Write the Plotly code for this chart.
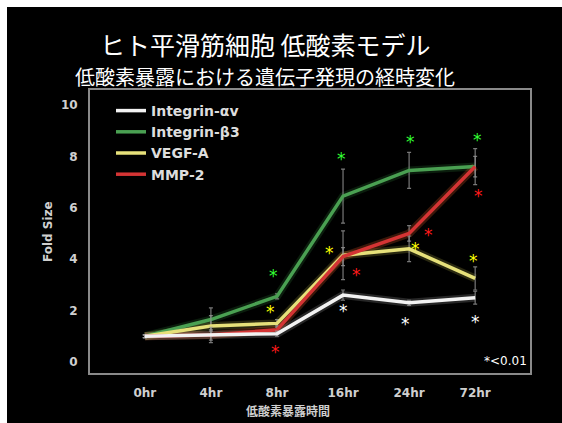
import plotly.graph_objects as go

# Exposure times (categorical positions 0..5)
time_labels = ["0hr", "4hr", "8hr", "16hr", "24hr", "72hr"]
x_pos = [0, 1, 2, 3, 4, 5]

# Fold change of gene expression
itga_v = [1.0, 1.05, 1.1, 2.6, 2.3, 2.5]
itgb_3 = [1.0, 1.65, 2.55, 6.45, 7.45, 7.6]
vegf_a = [1.0, 1.4, 1.5, 4.15, 4.4, 3.25]
mmp_2 = [1.0, 1.05, 1.25, 4.1, 5.0, 7.6]

# Error bar half-widths
itga_v_err = [0.05, 0.3, 0.1, 0.2, 0.1, 0.25]
itgb_3_err = [0.05, 0.45, 0.1, 1.05, 0.7, 0.7]
vegf_a_err = [0.05, 0.4, 0.15, 0.95, 0.5, 0.45]
mmp_2_err = [0.05, 0.2, 0.15, 0.35, 0.3, 0.4]

series = [
    # name, values, errors, line colour, glow colour, rank
    ("Integrin-β3", itgb_3, itgb_3_err, "#4aa052", "rgba(60,160,70,0.18)", 2),
    ("VEGF-A", vegf_a, vegf_a_err, "#e6e07a", "rgba(230,220,90,0.18)", 3),
    ("MMP-2", mmp_2, mmp_2_err, "#d43434", "rgba(230,90,40,0.25)", 4),
    ("Integrin-αv", itga_v, itga_v_err, "#f2f2f2", "rgba(255,255,255,0.15)", 1),
]

# Significance markers: (x position, y value)
stars_white = [(3.0, 2.15), (3.95, 1.65), (5.0, 1.7)]
stars_green = [(1.95, 3.5), (2.97, 8.05), (4.02, 8.7), (5.03, 8.8)]
stars_yellow = [(1.9, 2.1), (2.8, 4.4), (4.1, 4.55), (4.97, 4.1)]
stars_red = [(1.98, 0.55), (3.2, 3.55), (4.3, 5.1), (5.05, 6.6)]

# Plot area in page pixels
L, R, T, B = 90, 530, 90, 373
PW, PH = R - L, B - T


def px(xp):
    return (xp - L) / PW


def py(yp):
    return (B - yp) / PH


fig = go.Figure()

for name, vals, errs, col, glow, rank in series:
    # soft halo under each line
    fig.add_trace(go.Scatter(
        x=x_pos, y=vals, mode="lines", showlegend=False, hoverinfo="skip",
        line=dict(color=glow, width=8),
    ))
for name, vals, errs, col, glow, rank in series:
    fig.add_trace(go.Scatter(
        x=x_pos, y=vals, mode="lines", name=name, legendrank=rank,
        line=dict(color=col, width=3.5),
        error_y=dict(type="data", array=errs, visible=True,
                     color="rgba(150,150,150,0.8)", thickness=1.2, width=2),
    ))

star_sets = [
    (stars_white, "#ffffff"),
    (stars_green, "#33ff33"),
    (stars_yellow, "#ffff00"),
    (stars_red, "#ff1a1a"),
]
for pts, col in star_sets:
    for sx, sy in pts:
        fig.add_annotation(
            x=sx, y=sy, text="*", showarrow=False, xref="x", yref="y",
            font=dict(family="DejaVu Sans", size=17, color=col),
            yshift=-4,
        )

fig.add_annotation(
    x=5.82, y=0.05, text="*<0.01", showarrow=False, xref="x", yref="y",
    xanchor="right", font=dict(family="DejaVu Sans", size=12, color="#ffffff"),
)

# Titles
fig.add_annotation(
    x=px(265), y=py(44), xref="paper", yref="paper",
    xanchor="center", yanchor="middle",
    text="ヒト平滑筋細胞 低酸素モデル", showarrow=False,
    font=dict(family="Noto Sans CJK JP", size=25, color="#ffffff"),
)
fig.add_annotation(
    x=px(265), y=py(77), xref="paper", yref="paper",
    xanchor="center", yanchor="middle",
    text="低酸素暴露における遺伝子発現の経時変化", showarrow=False,
    font=dict(family="Noto Sans CJK JP", size=20, color="#ffffff"),
)

# Axis titles
fig.add_annotation(
    x=px(288), y=py(410), xref="paper", yref="paper",
    xanchor="center", yanchor="middle", showarrow=False,
    text="低酸素暴露時間",
    font=dict(family="Noto Sans CJK JP", size=12, color="#cfcfcf", weight="bold"),
)
fig.add_annotation(
    x=px(48), y=py(232), xref="paper", yref="paper",
    xanchor="center", yanchor="middle", showarrow=False, textangle=-90,
    text="Fold Size",
    font=dict(family="DejaVu Sans", size=12, color="#cfcfcf", weight="bold"),
)

# Black slide background
fig.add_shape(
    type="rect", xref="paper", yref="paper", layer="below",
    x0=px(7), x1=px(562), y0=py(423), y1=py(7),
    fillcolor="#000000", line=dict(width=0),
)

axis_font = dict(family="DejaVu Sans", size=12, color="#cfcfcf", weight="bold")

fig.update_layout(
    width=562, height=423,
    margin=dict(l=L, r=562 - R, t=T, b=423 - B),
    paper_bgcolor="#ffffff",
    plot_bgcolor="#000000",
    showlegend=True,
    legend=dict(
        x=px(111), y=py(95), xanchor="left", yanchor="top",
        bgcolor="rgba(0,0,0,0)", tracegroupgap=0,
        font=dict(family="DejaVu Sans", size=14, color="#dddddd", weight="bold"),
        itemwidth=30,
    ),
    xaxis=dict(
        range=[-0.83, 5.83], tickvals=x_pos, ticktext=time_labels,
        showgrid=False, zeroline=False, showline=True, mirror=True,
        linecolor="#8a8a8a", linewidth=2, ticks="", automargin=False,
        tickfont=axis_font, ticklabelstandoff=8,
    ),
    yaxis=dict(
        range=[-0.43, 10.58], tickvals=[0, 2, 4, 6, 8, 10],
        showgrid=False, zeroline=False, showline=True, mirror=True,
        linecolor="#8a8a8a", linewidth=2, ticks="", automargin=False,
        tickfont=axis_font, ticklabelstandoff=8,
    ),
)

fig.write_html("out.html")
